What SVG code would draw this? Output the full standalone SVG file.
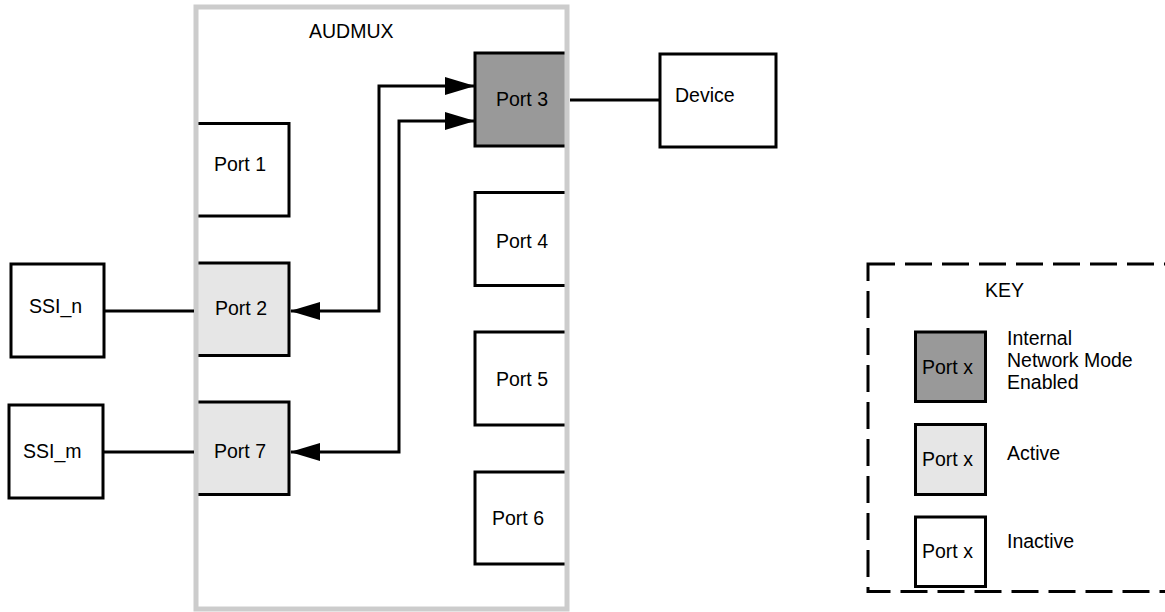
<svg xmlns="http://www.w3.org/2000/svg" width="1165" height="612" viewBox="0 0 1165 612">
<style>
text { font-family: "Liberation Sans", Arial, Helvetica, sans-serif; font-size: 19.5px; fill: #000; }
.box { stroke: #000; stroke-width: 3; }
.inactive { fill: #ffffff; }
.active { fill: #e6e6e6; }
.inm { fill: #999999; }
.wire { fill: none; stroke: #000; stroke-width: 3; }
</style>
<defs>
<marker id="arr" viewBox="0 0 30 18" refX="29" refY="9" markerWidth="30" markerHeight="18" markerUnits="userSpaceOnUse" orient="auto-start-reverse">
<path d="M0,0 L30,9 L0,18 z" fill="#000"/>
</marker>
</defs>
<rect width="1165" height="612" fill="#fff"/>
<g id="audmux">
<rect x="196" y="7" width="371" height="602" fill="#fff"/>
<text x="309" y="38">AUDMUX</text>
</g>
<g id="port1">
<rect class="box inactive" x="196" y="123.5" width="93" height="92.5"/>
<text x="214" y="171">Port 1</text>
</g>
<g id="port2">
<rect class="box active" x="196" y="263" width="93" height="92.5"/>
<text x="215" y="315">Port 2</text>
</g>
<g id="port7">
<rect class="box active" x="196" y="402" width="93" height="92.5"/>
<text x="214" y="458">Port 7</text>
</g>
<g id="port3">
<rect class="box inm" x="475" y="53" width="92" height="93"/>
<text x="496" y="106">Port 3</text>
</g>
<g id="port4">
<rect class="box inactive" x="475" y="192.5" width="92" height="93"/>
<text x="496" y="248">Port 4</text>
</g>
<g id="port5">
<rect class="box inactive" x="475" y="332" width="92" height="93"/>
<text x="496" y="386">Port 5</text>
</g>
<g id="port6">
<rect class="box inactive" x="475" y="472" width="92" height="92"/>
<text x="492" y="525">Port 6</text>
</g>
<g id="audmux-border">
<rect x="196" y="7" width="371" height="602" fill="none" stroke="#cccccc" stroke-width="5"/>
</g>
<g id="device">
<rect class="box inactive" x="660" y="54" width="116" height="93"/>
<text x="675" y="102">Device</text>
</g>
<g id="ssi_n">
<rect class="box inactive" x="11" y="264" width="93" height="93"/>
<text x="29" y="313">SSI_n</text>
</g>
<g id="ssi_m">
<rect class="box inactive" x="9" y="405" width="94" height="93"/>
<text x="23" y="458">SSI_m</text>
</g>
<g id="connectors">
<path class="wire" d="M570,100 H660"/>
<path class="wire" d="M104,311 H194"/>
<path class="wire" d="M103,452 H194"/>
<path class="wire" d="M291,311 H379 V86 H474" marker-start="url(#arr)" marker-end="url(#arr)"/>
<path class="wire" d="M291,452 H399 V121 H474" marker-start="url(#arr)" marker-end="url(#arr)"/>
</g>
<g id="key">
<rect x="868" y="264" width="310" height="327.5" fill="none" stroke="#000" stroke-width="3" stroke-dasharray="27 10"/>
<text x="985" y="297">KEY</text>
<rect class="box inm" x="915.5" y="332" width="70" height="69.5"/>
<text x="922" y="374">Port x</text>
<text x="1007" y="345">Internal</text>
<text x="1007" y="367">Network Mode</text>
<text x="1007" y="389">Enabled</text>
<rect class="box active" x="915.5" y="424.5" width="70" height="70"/>
<text x="922" y="466">Port x</text>
<text x="1007" y="460">Active</text>
<rect class="box inactive" x="915.5" y="517" width="70" height="69.5"/>
<text x="922" y="558">Port x</text>
<text x="1007" y="548">Inactive</text>
</g>
</svg>
